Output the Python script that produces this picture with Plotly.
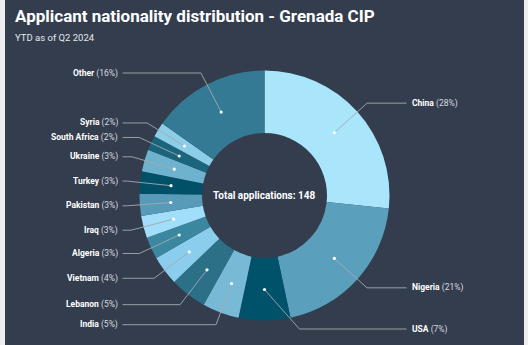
import math
import plotly.graph_objects as go

# ---- data ----
countries = ["China", "Nigeria", "USA", "India", "Lebanon", "Vietnam", "Algeria",
             "Iraq", "Pakistan", "Turkey", "Ukraine", "South Africa", "Syria", "Other"]
shares = [28, 21, 7, 5, 5, 4, 3, 3, 3, 3, 3, 2, 2, 16]
colors = ["#aae6fb", "#5aa0bc", "#00526a", "#78b9d6", "#2c7088", "#8acdec", "#3c87a0",
          "#a0defa", "#589bb9", "#005068", "#6eb2ce", "#1a647c", "#8ccde8", "#347a94"]
total_applications = 148
title_text = "Applicant nationality distribution - Grenada CIP"
subtitle_text = "YTD as of Q2 2024"

# ---- layout constants ----
W, H = 528, 345
BG = "#343d4d"
CX, CY, R = 264.5, 195.5, 125
HOLE = 0.5
R_DOT = 94
R_LABEL = 138
Y_MIN, Y_MAX = 70, 329
MIN_GAP = 11
FONT = "Roboto"


def px(x):
    return x / W


def py(y):
    return 1 - y / H


fig = go.Figure()
fig.add_trace(go.Pie(
    labels=countries, values=shares, sort=False, direction="clockwise", rotation=0,
    hole=HOLE, marker=dict(colors=colors, line=dict(width=0)),
    textinfo="none", hoverinfo="label+percent", showlegend=False,
    domain=dict(x=[px(CX - R), px(CX + R)], y=[py(CY + R), py(CY - R)]),
))

# leader-line geometry derived from the data
total = sum(shares)
mids = []
acc = 0
for v in shares:
    mids.append((acc + v / 2) / total * 2 * math.pi)
    acc += v

items = []
for i, th in enumerate(mids):
    side = 1 if math.sin(th) >= 0 else -1
    ly = CY - R_LABEL * math.cos(th)
    items.append(dict(i=i, th=th, side=side, y=ly))

for side in (1, -1):
    grp = sorted([it for it in items if it["side"] == side], key=lambda d: d["y"])
    prev = None
    for it in grp:
        it["y"] = min(max(it["y"], Y_MIN), Y_MAX)
        if prev is not None and it["y"] - prev < MIN_GAP:
            it["y"] = prev + MIN_GAP
        prev = it["y"]

shapes = []
annotations = []
for it in items:
    i, th, side, ly = it["i"], it["th"], it["side"], it["y"]
    dx0 = CX + R_DOT * math.sin(th)
    dy0 = CY - R_DOT * math.cos(th)
    dy = ly - CY
    ex = CX + side * math.sqrt(max(R_LABEL ** 2 - dy ** 2, 0))
    endx = CX + side * (R_LABEL + 4)
    path = "M %.4f %.4f L %.4f %.4f L %.4f %.4f" % (px(dx0), py(dy0), px(ex), py(ly), px(endx), py(ly))
    shapes.append(dict(type="path", xref="paper", yref="paper", path=path,
                       line=dict(color="#a3a9b2", width=0.9), layer="above"))
    rr = 1.6
    shapes.append(dict(type="circle", xref="paper", yref="paper",
                       x0=px(dx0 - rr), x1=px(dx0 + rr), y0=py(dy0 + rr), y1=py(dy0 - rr),
                       fillcolor="white", line=dict(width=0), layer="above"))
    pct = round(shares[i] / total_applications * 100) if False else shares[i]
    annotations.append(dict(
        xref="paper", yref="paper", x=px(endx + side * 3), y=py(ly),
        xanchor="left" if side > 0 else "right", yanchor="middle", showarrow=False,
        text="<b>%s</b> <span style='color:#d6dae0'>(%d%%)</span>" % (countries[i], pct),
        font=dict(family=FONT, size=8.5, color="#ffffff"),
    ))

annotations.append(dict(
    xref="paper", yref="paper", x=px(CX), y=py(CY), xanchor="center", yanchor="middle",
    showarrow=False, text="<b>Total applications: %d</b>" % total_applications,
    font=dict(family=FONT, size=10, color="#ffffff"),
))
annotations.append(dict(
    xref="paper", yref="paper", x=px(13), y=py(15.5), xanchor="left", yanchor="middle",
    showarrow=False, text="<b>%s</b>" % title_text,
    font=dict(family=FONT, size=17, color="#ffffff"),
))
annotations.append(dict(
    xref="paper", yref="paper", x=px(13), y=py(37.5), xanchor="left", yanchor="middle",
    showarrow=False, text=subtitle_text,
    font=dict(family=FONT, size=9.5, color="#e4e7eb"),
))

# thin light frame strips at left/right edges
shapes.append(dict(type="rect", xref="paper", yref="paper", x0=0, x1=px(5), y0=0, y1=1,
                   fillcolor="#eeeeee", line=dict(width=0), layer="above"))
shapes.append(dict(type="rect", xref="paper", yref="paper", x0=px(524), x1=1, y0=0, y1=1,
                   fillcolor="#eeeeee", line=dict(width=0), layer="above"))

fig.update_layout(
    width=W, height=H, margin=dict(l=0, r=0, t=0, b=0),
    paper_bgcolor=BG, plot_bgcolor=BG,
    shapes=shapes, annotations=annotations,
    font=dict(family=FONT),
)
fig.write_html("out.html")
